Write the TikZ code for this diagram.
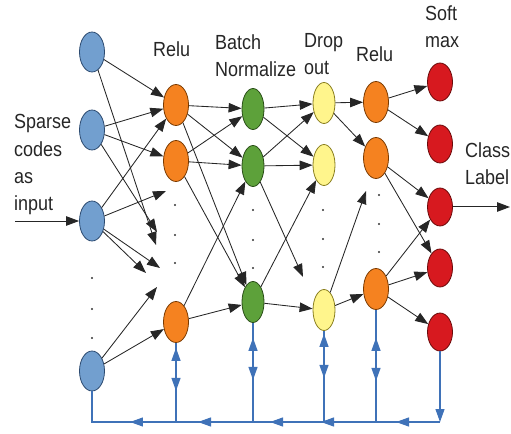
\documentclass[tikz,border=0pt]{standalone}
\usepackage{fontspec}
\setmainfont[FakeStretch=0.88]{Liberation Sans}
\usetikzlibrary{arrows.meta,shapes.geometric,decorations.markings}
\definecolor{nblue}{HTML}{729FCF}\definecolor{nbluedk}{HTML}{2C4A70}
\definecolor{norange}{HTML}{F58220}\definecolor{norangedk}{HTML}{7A3A00}
\definecolor{ngreen}{HTML}{5DA13A}\definecolor{ngreendk}{HTML}{2A4E18}
\definecolor{nyellow}{HTML}{FFF58C}\definecolor{nyellowdk}{HTML}{8A7F20}
\definecolor{nred}{HTML}{D7191F}\definecolor{nreddk}{HTML}{6A0A0A}
\definecolor{fbblue}{HTML}{3F72B8}
\tikzset{
  bT/.tip={Triangle[length=13bp,width=9bp]},
  kT/.tip={Triangle[length=13bp,width=9.5bp]},
  neuron/.style={ellipse, line width=0.8bp, minimum width=25bp, minimum height=40bp, inner sep=0pt},
  nb/.style={neuron, fill=nblue, draw=nbluedk},
  no/.style={neuron, fill=norange, draw=norangedk, minimum height=41bp},
  ng/.style={neuron, fill=ngreen, draw=ngreendk, minimum width=22bp, minimum height=41bp},
  ny/.style={neuron, fill=nyellow, draw=nyellowdk, minimum width=22bp, minimum height=41bp},
  nr/.style={neuron, fill=nred, draw=nreddk, minimum height=38bp},
  arr/.style={draw=black!85, line width=0.85bp, -kT},
  fb/.style={draw=fbblue, line width=1.2bp},
  lbl/.style={align=left, inner sep=0pt, anchor=base west, font=\fontsize{20.5}{27.5}\selectfont, text=black!85},
  updown/.style 2 args={decoration={markings,
      mark=at position #1 with {\arrowreversed[fbblue]{bT}},
      mark=at position #2 with {\arrow[fbblue]{bT}}}, postaction={decorate}},
  hmarks/.style={decoration={markings,
      mark=at position 44bp with {\arrow[fbblue]{bT}},
      mark=at position 119bp with {\arrow[fbblue]{bT}},
      mark=at position 170bp with {\arrow[fbblue]{bT}},
      mark=at position 242bp with {\arrow[fbblue]{bT}},
      mark=at position 310bp with {\arrow[fbblue]{bT}}}, postaction={decorate}},
  dot/.style={circle, fill=black!80, inner sep=0pt, minimum size=2.4bp}
}
\begin{document}
\begin{tikzpicture}[x=1bp,y=-1bp]
\useasboundingbox (0,0) rectangle (511,434);
% nodes
\node[nb] (b1) at (92,52) {};
\node[nb] (b2) at (92,130) {};
\node[nb] (b3) at (92,221) {};
\node[nb] (b4) at (92,371) {};
\node[no] (o1) at (176,105) {};
\node[no] (o2) at (176,161) {};
\node[no] (o3) at (176,322) {};
\node[ng] (g1) at (253,109) {};
\node[ng] (g2) at (253,166) {};
\node[ng] (g3) at (253,302) {};
\node[ny] (y1) at (324,103) {};
\node[ny] (y2) at (324,165) {};
\node[ny] (y3) at (324,310) {};
\node[no] (p1) at (376,102) {};
\node[no] (p2) at (376,158) {};
\node[no] (p3) at (376,289) {};
\node[nr] (r1) at (440,82) {};
\node[nr] (r2) at (440,144) {};
\node[nr] (r3) at (440,207) {};
\node[nr] (r4) at (440,268) {};
\node[nr] (r5) at (440,332) {};
% dots
\foreach \n/\x/\y in {d1/92/278,d2/92/309,d3/92/338,d4/175/205,d5/175/235,d6/175/263,
  d7/253/210,d8/253/240,d9/253/268,d10/323/210,d11/323/239,d12/323/267,
  d13/379/195,d14/379/224,d15/379/252}
  \node[dot] (\n) at (\x,\y) {};
% labels (base = baseline of the last line)
\node[lbl] (lin) at (14,211) {Sparse\\codes\\as\\input};
\node[lbl] (lrelu1) at (153,57) {Relu};
\node[lbl] (lbn) at (215,77) {Batch\\Normalize};
\node[lbl] (ldo) at (304,75) {Drop\\out};
\node[lbl] (lrelu2) at (356,62) {Relu};
\node[lbl] (lsm) at (425,48) {Soft\\max};
\node[lbl] (lcl) at (465,185) {Class\\Label};
% free ends
\coordinate (t0) at (15,221);
\coordinate (t1) at (156,245);
\coordinate (t2) at (157,232);
\coordinate (t3) at (166,191);
\coordinate (t4) at (160,268);
\coordinate (t5) at (146,273);
\coordinate (t6) at (157,287);
\coordinate (t7) at (303,277);
\coordinate (t8) at (366,191);
\coordinate (t9) at (510,207);
% black connectors
\draw[arr] (t0) -- (b3);
\draw[arr] (b1) -- (o1);
\draw[arr] (b1) -- (t1);
\draw[arr] (b2) -- (o1);
\draw[arr] (b2) -- (o2);
\draw[arr] (b2) -- (t2);
\draw[arr] (b3) -- (o1);
\draw[arr] (b3) -- (t3);
\draw[arr] (b3) -- (t4);
\draw[arr] (b3) -- (t5);
\draw[arr] (b4) -- (t6);
\draw[arr] (b4) -- (o3);
\draw[arr] (o1) -- (g1);
\draw[arr] (o1) -- (g2);
\draw[arr] (o1) -- (g3);
\draw[arr] (o2) -- (g1);
\draw[arr] (o2) -- (g2);
\draw[arr] (o2) -- (g3);
\draw[arr] (o3) -- (g2);
\draw[arr] (o3) -- (g3);
\draw[arr] (g1) -- (y1);
\draw[arr] (g1) -- (y2);
\draw[arr] (g2) -- (y1);
\draw[arr] (g2) -- (y2);
\draw[arr] (g2) -- (t7);
\draw[arr] (g3) -- (y2);
\draw[arr] (g3) -- (y3);
\draw[arr] (y1) -- (p1);
\draw[arr] (y1) -- (p2);
\draw[arr] (y3) -- (t8);
\draw[arr] (y3) -- (p3);
\draw[arr] (p1) -- (r1);
\draw[arr] (p1) -- (r2);
\draw[arr] (p2) -- (r3);
\draw[arr] (p2) -- (r4);
\draw[arr] (p3) -- (r3);
\draw[arr] (p3) -- (r4);
\draw[arr] (p3) -- (r5);
\draw[arr, line width=1bp] (r3) -- (t9);
% feedback
\coordinate (bl) at (92,422);
\coordinate (rb) at (r5.south |- bl);
\draw[fb, -bT] (r5.south) -- (rb);
\draw[fb, hmarks] (rb) -- (bl) -- (b4.south);
\draw[fb, updown={5bp}{48bp}] (o3.south) -- (o3.south |- bl);
\draw[fb, updown={15bp}{57bp}] (g3.south) -- (g3.south |- bl);
\draw[fb, updown={3bp}{47bp}] (y3.south) -- (y3.south |- bl);
\draw[fb, updown={28bp}{71bp}] (p3.south) -- (p3.south |- bl);
\end{tikzpicture}
\end{document}
